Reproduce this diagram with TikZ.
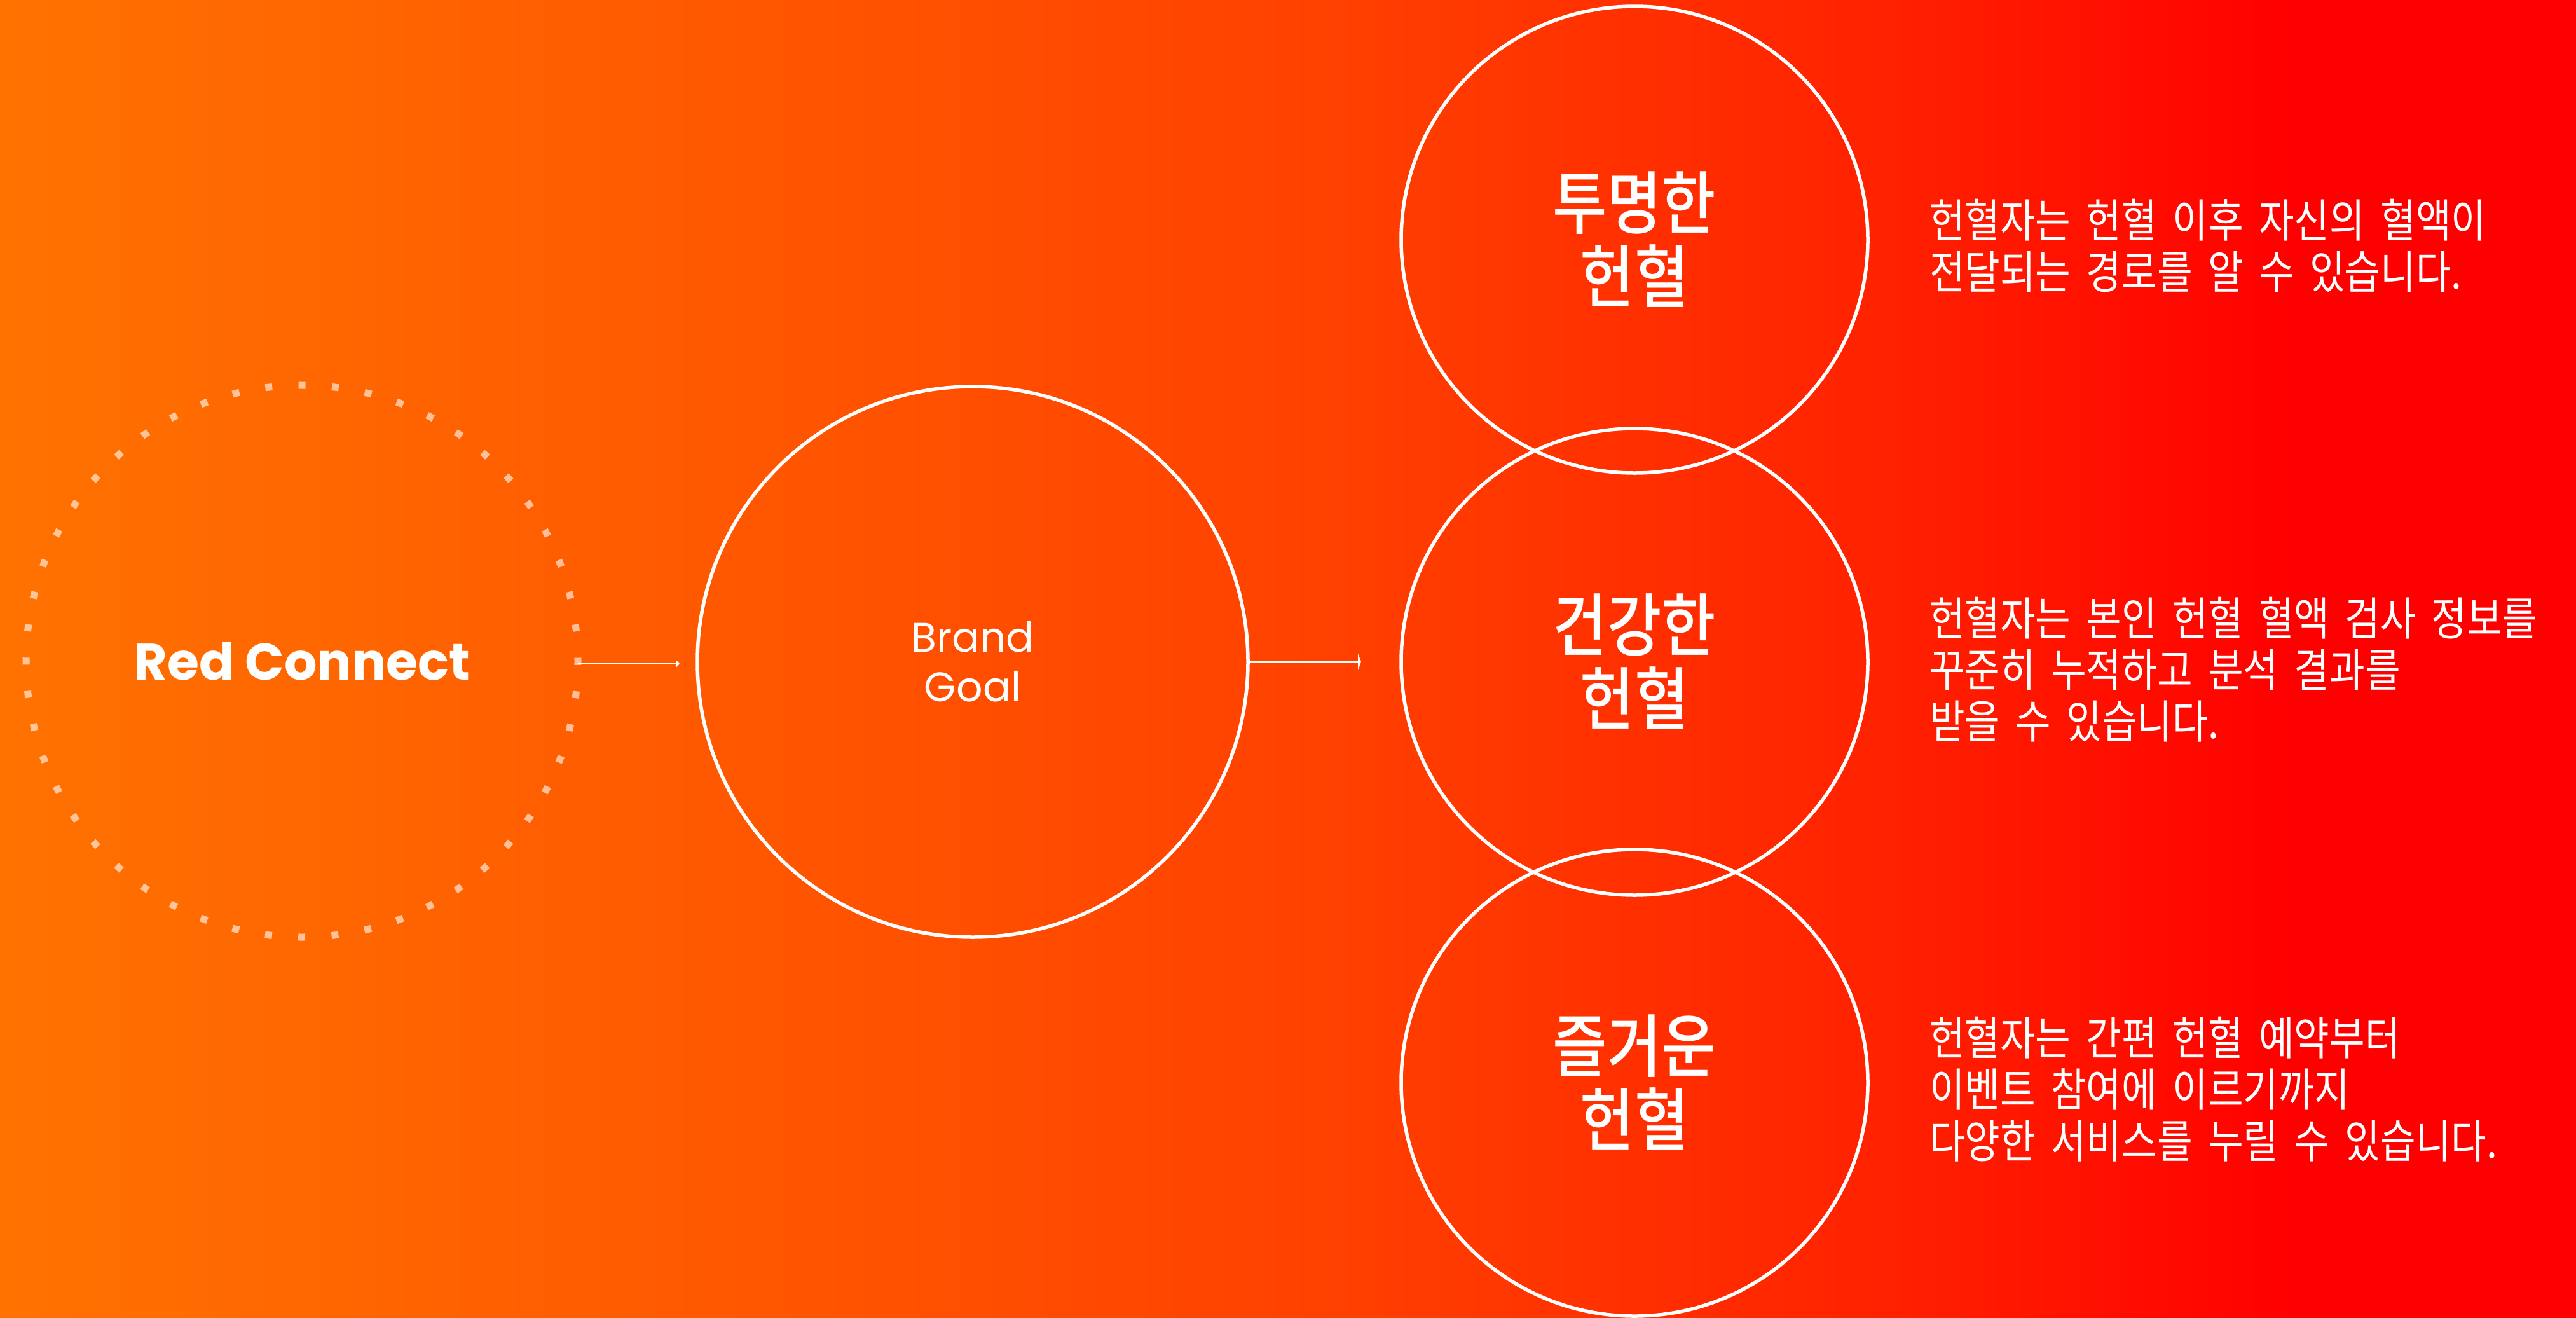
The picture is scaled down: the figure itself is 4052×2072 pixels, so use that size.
\documentclass[tikz,border=0pt]{standalone}
\usepackage{fontspec}
\usepackage{xcolor}
\usepackage{tikz}
\usetikzlibrary{
  arrows.meta,
  positioning
}
\newfontfamily\brandfont{Poppins}
\newfontfamily\krtext[FakeStretch=0.84,WordSpace=1.8]{Noto Sans CJK KR}
\newfontfamily\krhead[FakeStretch=0.86]{Noto Sans CJK KR Medium}
\definecolor{bgA}{RGB}{255,114,0}
\definecolor{bgB}{RGB}{255,90,0}
\definecolor{bgC}{RGB}{255,64,0}
\definecolor{bgD}{RGB}{255,34,0}
\definecolor{bgE}{RGB}{255,0,0}
\pgfdeclarehorizontalshading{bgshade}{100bp}{color(0bp)=(bgA); color(25bp)=(bgA); color(38bp)=(bgB); color(51bp)=(bgC); color(61.5bp)=(bgD); color(69.5bp)=(bgE); color(100bp)=(bgE)}

\begin{document}
\begin{tikzpicture}[x=1pt, y=-1pt,
    every node/.style={text=white, align=center, inner sep=0pt, outer sep=0pt},
    ring/.style={circle, draw=white, line width=5.5pt},
    dotring/.style={circle, draw=white, draw opacity=0.6, line width=11pt, dash pattern=on 11pt off 41.44pt, dash phase=5.5pt},
    head/.style={font=\krhead\fontsize{108}{116}\selectfont},
    desc/.style={font=\krtext\fontsize{72}{81}\selectfont, align=left},
    link/.style={draw=white}]
\useasboundingbox (0,0) rectangle (4052,2072);
\shade[shading=bgshade] (0,0) rectangle (4052,2072);
\node[dotring, minimum size=868pt, font=\brandfont\bfseries\fontsize{81}{96}\selectfont] (rc) at (475,1040) {Red Connect};
\node[ring, minimum size=866pt, font=\brandfont\fontsize{65}{78}\selectfont] (bg) at (1530,1041) {Brand\\Goal};
\node[ring, head, minimum size=734pt] (c1) at (2571,377) {투명한\\헌혈};
\node[ring, head, minimum size=734pt] (c2) at (2571,1041) {건강한\\헌혈};
\node[ring, head, minimum size=734pt] (c3) at (2571,1703) {즐거운\\헌혈};
\node[desc, right=97pt of c1, yshift=-10pt] (d1) {헌혈자는 헌혈 이후 자신의 혈액이\\전달되는 경로를 알 수 있습니다.};
\node[desc, right=97pt of c2, yshift=-12pt] (d2) {헌혈자는 본인 헌혈 혈액 검사 정보를\\꾸준히 누적하고 분석 결과를\\받을 수 있습니다.};
\node[desc, right=97pt of c3, yshift=-10pt] (d3) {헌혈자는 간편 헌혈 예약부터\\이벤트 참여에 이르기까지\\다양한 서비스를 누릴 수 있습니다.};
\draw[link, line width=2pt, -{Triangle[length=5pt,width=10pt]}] ([yshift=-4pt]rc.east) -- ([xshift=-28pt,yshift=-3pt]bg.west);
\draw[link, line width=4pt, -{Triangle[length=5pt,width=26pt]}] (bg.east) -- ([xshift=-63pt]c2.west);
\end{tikzpicture}
\end{document}
